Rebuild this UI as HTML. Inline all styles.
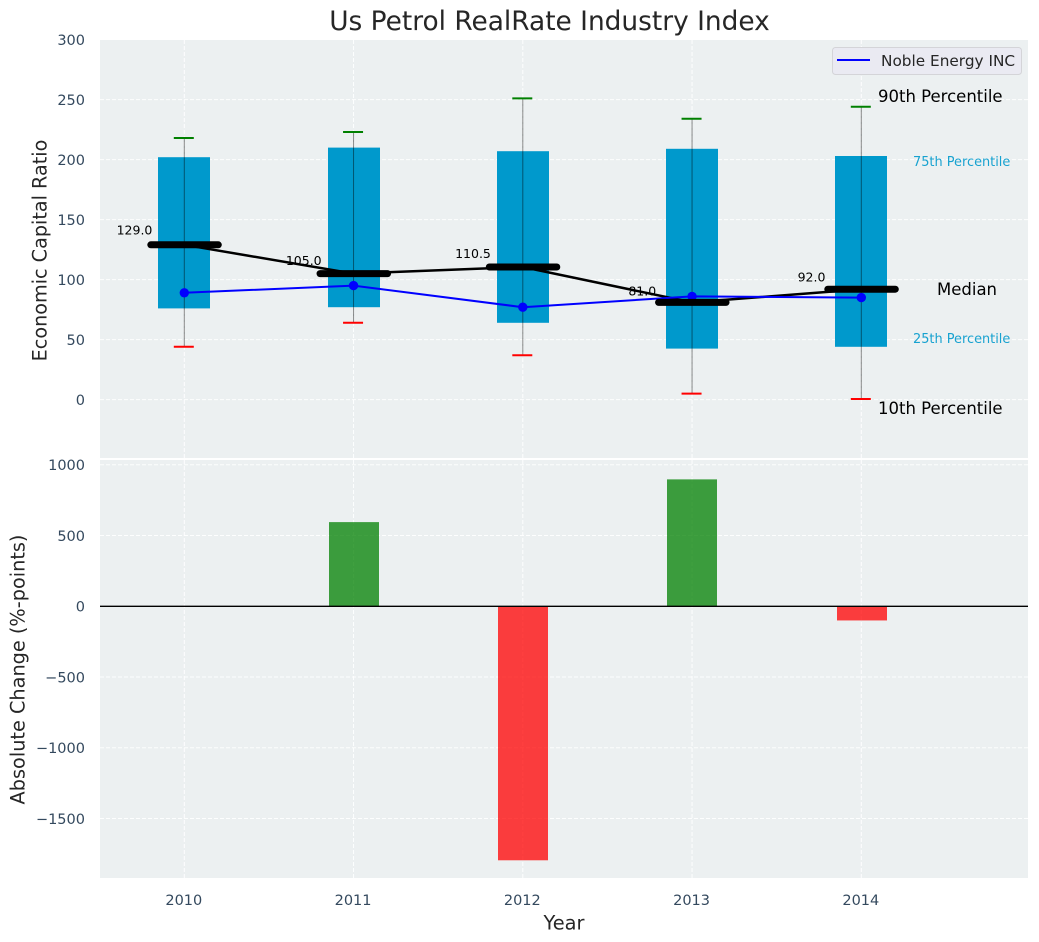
<!DOCTYPE html>
<html lang="en">
<head>
<meta charset="utf-8">
<title>Us Petrol RealRate Industry Index</title>
<style>
html,body{margin:0;padding:0;background:#fff;width:1039px;height:942px;overflow:hidden}
svg{display:block;font-family:"DejaVu Sans","Liberation Sans",sans-serif}
</style>
</head>
<body>
<svg id="chart" xmlns="http://www.w3.org/2000/svg" width="1039" height="942" viewBox="0 0 1039 942">
  <rect x="100" y="40" width="928" height="418" fill="#ecf0f1"/>
  <rect x="100" y="460" width="928" height="418" fill="#ecf0f1"/>
  <g id="grid"></g>
  <g id="top-marks"></g>
  <g id="bottom-marks"></g>
  <g id="ticks" font-size="14.5" fill="#34495e"></g>
  <text x="549.5" y="30" text-anchor="middle" font-size="26.4" fill="#262626">Us Petrol RealRate Industry Index</text>
  <text transform="translate(46.5,250.5) rotate(-90)" text-anchor="middle" font-size="19.2" fill="#262626">Economic Capital Ratio</text>
  <text transform="translate(24.5,669.5) rotate(-90)" text-anchor="middle" font-size="19.3" fill="#262626">Absolute Change (%-points)</text>
  <text x="564" y="929.5" text-anchor="middle" font-size="19.4" fill="#262626">Year</text>
  <text x="878" y="102" font-size="16.5" fill="#000">90th Percentile</text>
  <text x="913" y="166" font-size="12.9" fill="#0099cc" fill-opacity="0.9">75th Percentile</text>
  <text x="937" y="295" font-size="16.5" fill="#000">Median</text>
  <text x="913" y="343" font-size="12.9" fill="#0099cc" fill-opacity="0.9">25th Percentile</text>
  <text x="878" y="414" font-size="16.5" fill="#000">10th Percentile</text>
  <g>
    <rect x="832.5" y="47.5" width="189" height="27" rx="3" fill="#eaeaf2" stroke="#d4d4d8" stroke-width="1"/>
    <line x1="837" x2="870" y1="60" y2="60" stroke="#0000ff" stroke-width="2"/>
    <text x="881" y="66" font-size="15.3" fill="#262626">Noble Energy INC</text>
  </g>
</svg>
<script>
var years = [2010, 2011, 2012, 2013, 2014];
var p90 = [218, 223, 251, 234, 244];
var p75 = [202, 210, 207, 209, 203];
var medians = [129, 105, 110.5, 81, 92];
var p25 = [76, 77, 64, 42.5, 44];
var p10 = [44, 64, 37, 5, 0.5];
var nobleEnergy = [89, 95, 77, 86, 85];
var absChange = [0, 595, -1795, 897, -100];
var medianLabels = ['129.0', '105.0', '110.5', '81.0', '92.0'];
var topTicks = [0, 50, 100, 150, 200, 250, 300];
var bottomTicks = [-1500, -1000, -500, 0, 500, 1000];

var NS = 'http://www.w3.org/2000/svg';
function xPos(v){ return 184.3 + (v - 2010) * 169.25; }
function yTop(v){ return 399.6 - v * 1.2; }
function yBot(v){ return 606.3 - v * 0.1415; }
function make(tag, parent, props){
  var el = document.createElementNS(NS, tag);
  for (var k in props) { el.setAttribute(k, props[k]); }
  parent.appendChild(el);
  return el;
}
var grid = document.getElementById('grid');
var topG = document.getElementById('top-marks');
var botG = document.getElementById('bottom-marks');
var tickG = document.getElementById('ticks');
var gridStyle = {stroke:'#ffffff', 'stroke-width':1, 'stroke-dasharray':'4 2', 'stroke-opacity':0.9};
function gridLine(x1, y1, x2, y2){
  var l = make('line', grid, {x1:x1, y1:y1, x2:x2, y2:y2});
  for (var k in gridStyle) { l.setAttribute(k, gridStyle[k]); }
  return l;
}

topTicks.forEach(function(t){
  if (t !== 300) {
    var g = gridLine(100, yTop(t), 1028, yTop(t));
    
    
  }
  var lb = make('text', tickG, {x:85, y:yTop(t) + 5.3, 'text-anchor':'end'});
  lb.textContent = String(t);
  
  
});
bottomTicks.forEach(function(t){
  var g = gridLine(100, yBot(t), 1028, yBot(t));
  
  
  var lb = make('text', tickG, {x:85, y:yBot(t) + 5.2, 'text-anchor':'end'});
  lb.textContent = String(t).replace('-', '\u2212');
  
  
});
years.forEach(function(yr){
  var a = gridLine(xPos(yr), 40, xPos(yr), 458);
  
  
  var b = gridLine(xPos(yr), 460, xPos(yr), 878);
  
  
  var lb = make('text', tickG, {x:xPos(yr) - 0.5, y:905, 'text-anchor':'middle'});
  lb.textContent = String(yr);
  
  
});

/* percentile boxes */
years.forEach(function(yr, i){
  var box = make('rect', topG, {x:Math.round(xPos(yr) - 26), y:yTop(p75[i]), width:52, height:yTop(p25[i]) - yTop(p75[i]), fill:'#0099cc'});
  
  
});
/* median line */
var medPts = years.map(function(yr, i){ return xPos(yr) + ',' + yTop(medians[i]); }).join(' ');
var medLine = make('polyline', topG, {points:medPts, fill:'none', stroke:'#000', 'stroke-width':2.5});


/* whiskers, caps */
years.forEach(function(yr, i){
  var w = make('line', topG, {x1:xPos(yr), x2:xPos(yr), y1:yTop(p90[i]), y2:yTop(p10[i]), stroke:'#000', 'stroke-opacity':0.45, 'stroke-width':1});
  
  
  var hi = make('line', topG, {x1:xPos(yr) - 10.5, x2:xPos(yr) + 9.5, y1:yTop(p90[i]), y2:yTop(p90[i]), stroke:'#008000', 'stroke-width':2});
  
  
  var lo = make('line', topG, {x1:xPos(yr) - 10.5, x2:xPos(yr) + 9.5, y1:yTop(p10[i]), y2:yTop(p10[i]), stroke:'#ff0000', 'stroke-width':2});
  
  
});
/* noble energy series */
var blPts = years.map(function(yr, i){ return xPos(yr) + ',' + yTop(nobleEnergy[i]); }).join(' ');
var blue = make('polyline', topG, {points:blPts, fill:'none', stroke:'#0000ff', 'stroke-width':2});


years.forEach(function(yr, i){
  var c = make('circle', topG, {cx:xPos(yr), cy:yTop(nobleEnergy[i]), r:4.7, fill:'#0000ff'});
  
  
});
/* median bars and labels */
years.forEach(function(yr, i){
  var m = make('line', topG, {x1:xPos(yr) - 33.5, x2:xPos(yr) + 34, y1:yTop(medians[i]), y2:yTop(medians[i]), stroke:'#000', 'stroke-width':7, 'stroke-linecap':'round'});
  
  
  var t = make('text', topG, {x:xPos(yr) - 49.8, y:yTop(medians[i] * 1.058 + 1), 'text-anchor':'middle', 'font-size':12.5, fill:'#000'});
  t.textContent = medianLabels[i];
  
  
});
/* change bars */
years.forEach(function(yr, i){
  var v = absChange[i];
  if (v === 0) { return; }
  var y0 = Math.min(yBot(v), yBot(0));
  var b = make('rect', botG, {x:Math.round(xPos(yr) - 24.8), y:y0, width:50, height:Math.abs(yBot(v) - yBot(0)), fill:v > 0 ? '#008000' : '#ff0000', 'fill-opacity':0.75});
  
  
});
var zero = make('line', botG, {x1:100, x2:1028, y1:yBot(0), y2:yBot(0), stroke:'#000', 'stroke-width':1.4});


</script>
</body>
</html>
